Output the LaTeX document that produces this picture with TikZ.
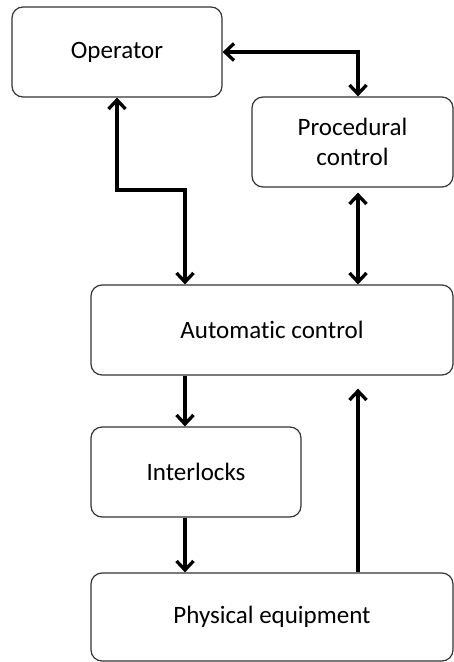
\documentclass[tikz,border=0pt]{standalone}
\usepackage{fontspec}
\setmainfont[RawFeature={-liga}]{Carlito}
\usetikzlibrary{arrows.meta}
\begin{document}
\begin{tikzpicture}[x=1pt,y=-1pt,
  box/.style={draw=black!80, line width=1.2pt, rounded corners=11pt, inner sep=0pt,
    font=\fontsize{25}{30}\selectfont, align=center},
  arr/.style={line width=3.3pt, -{Straight Barb[length=9pt,width=17pt,line width=3.3pt]}},
  dbl/.style={line width=3.3pt, {Straight Barb[length=9pt,width=17pt,line width=3.3pt]}-{Straight Barb[length=9pt,width=17pt,line width=3.3pt]}}]
\useasboundingbox (0,0) rectangle (454,662);
\node[box, minimum width=210pt, minimum height=90pt] (op) at (117,52) {Operator};
\node[box, minimum width=201pt, minimum height=90pt] (proc) at (352.5,142) {Procedural\\control};
\node[box, minimum width=362pt, minimum height=90pt] (auto) at (272,330) {Automatic control};
\node[box, minimum width=210pt, minimum height=90pt] (inter) at (196,472) {Interlocks};
\node[box, minimum width=362pt, minimum height=88pt] (phys) at (272,617) {Physical equipment};
\coordinate (xl) at (185,0);
\coordinate (xr) at (358,0);
\coordinate (bend) at (185,190);
\draw[dbl] (op.east) -| (proc.north -| xr);
\draw[dbl] (op.south) |- (bend) -- (auto.north -| bend);
\draw[dbl] ([yshift=-5pt]proc.south -| xr) -- (auto.north -| xr);
\draw[arr] (auto.south -| xl) -- (inter.north -| xl);
\draw[arr] (inter.south -| xl) -- (phys.north -| xl);
\draw[arr] (phys.north -| xr) -- ([yshift=-13pt]auto.south -| xr);
\end{tikzpicture}
\end{document}
